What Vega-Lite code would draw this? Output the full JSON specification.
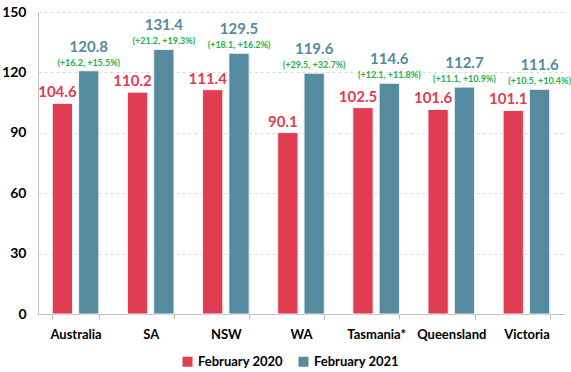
{
  "$schema": "https://vega.github.io/schema/vega-lite/v6.json",
  "width": 526,
  "height": 302,
  "autosize": "none",
  "padding": {"left": 38, "top": 12, "right": 7, "bottom": 58},
  "background": "white",
  "config": {
    "font": "Lato",
    "view": {"stroke": null}
  },
  "data": {
    "values": [
      {"region": "Australia", "series": "February 2020", "value": 104.6, "change": ""},
      {"region": "Australia", "series": "February 2021", "value": 120.8, "change": "(+16.2, +15.5%)"},
      {"region": "SA", "series": "February 2020", "value": 110.2, "change": ""},
      {"region": "SA", "series": "February 2021", "value": 131.4, "change": "(+21.2, +19.3%)"},
      {"region": "NSW", "series": "February 2020", "value": 111.4, "change": ""},
      {"region": "NSW", "series": "February 2021", "value": 129.5, "change": "(+18.1, +16.2%)"},
      {"region": "WA", "series": "February 2020", "value": 90.1, "change": ""},
      {"region": "WA", "series": "February 2021", "value": 119.6, "change": "(+29.5, +32.7%)"},
      {"region": "Tasmania*", "series": "February 2020", "value": 102.5, "change": ""},
      {"region": "Tasmania*", "series": "February 2021", "value": 114.6, "change": "(+12.1, +11.8%)"},
      {"region": "Queensland", "series": "February 2020", "value": 101.6, "change": ""},
      {"region": "Queensland", "series": "February 2021", "value": 112.7, "change": "(+11.1, +10.9%)"},
      {"region": "Victoria", "series": "February 2020", "value": 101.1, "change": ""},
      {"region": "Victoria", "series": "February 2021", "value": 111.6, "change": "(+10.5, +10.4%)"}
    ]
  },
  "encoding": {
    "x": {
      "field": "region", "type": "nominal", "sort": null,
      "scale": {"paddingInner": 0.38, "paddingOuter": 0.19},
      "axis": {
        "title": null, "labelAngle": 0, "labelFont": "Lato", "labelFontSize": 13,
        "labelFontWeight": "bold", "labelColor": "#000000", "labelPadding": 9,
        "domainColor": "#BFBFBF", "tickColor": "#BFBFBF", "tickBand": "extent", "tickSize": 5
      }
    },
    "xOffset": {"field": "series", "type": "nominal", "scale": {"paddingInner": 0.23}},
    "y": {
      "field": "value", "type": "quantitative",
      "scale": {"domain": [0, 150]},
      "axis": {
        "title": null, "values": [0, 30, 60, 90, 120, 150], "ticks": false,
        "labelFont": "Lato", "labelFontSize": 14, "labelFontWeight": "bold",
        "labelColor": "#000000", "labelPadding": 12,
        "domainColor": "#BFBFBF", "gridColor": "#D9D9D9", "gridDash": [3, 3]
      }
    },
    "color": {
      "field": "series", "type": "nominal",
      "scale": {"domain": ["February 2020", "February 2021"], "range": ["#E03C52", "#568A9F"]},
      "legend": {
        "title": null, "orient": "none", "direction": "horizontal",
        "legendX": 143, "legendY": 343, "symbolType": "square", "symbolSize": 100,
        "symbolStrokeWidth": 0, "labelFont": "Lato",
        "labelFontSize": 13, "labelFontWeight": "bold", "labelColor": "#000000",
        "columnPadding": 14
      }
    }
  },
  "layer": [
    {
      "mark": {"type": "bar", "stroke": "#F2F2F2", "strokeWidth": 1}
    },
    {
      "mark": {"type": "text", "baseline": "alphabetic", "dy": -6, "dx": -5, "fontSize": 15, "fontWeight": "bold", "font": "Lato"},
      "transform": [{"filter": "datum.series == 'February 2020'"}],
      "encoding": {"text": {"field": "value", "type": "quantitative", "format": ".1f"}}
    },
    {
      "mark": {"type": "text", "baseline": "alphabetic", "dy": -19, "fontSize": 15, "fontWeight": "bold", "font": "Lato"},
      "transform": [{"filter": "datum.series == 'February 2021'"}],
      "encoding": {"text": {"field": "value", "type": "quantitative", "format": ".1f"}}
    },
    {
      "mark": {"type": "text", "baseline": "alphabetic", "dy": -5, "fontSize": 9, "fontWeight": "bold", "font": "Lato"},
      "transform": [{"filter": "datum.series == 'February 2021'"}],
      "encoding": {"text": {"field": "change", "type": "nominal"}, "color": {"value": "#22B14C"}}
    }
  ]
}
